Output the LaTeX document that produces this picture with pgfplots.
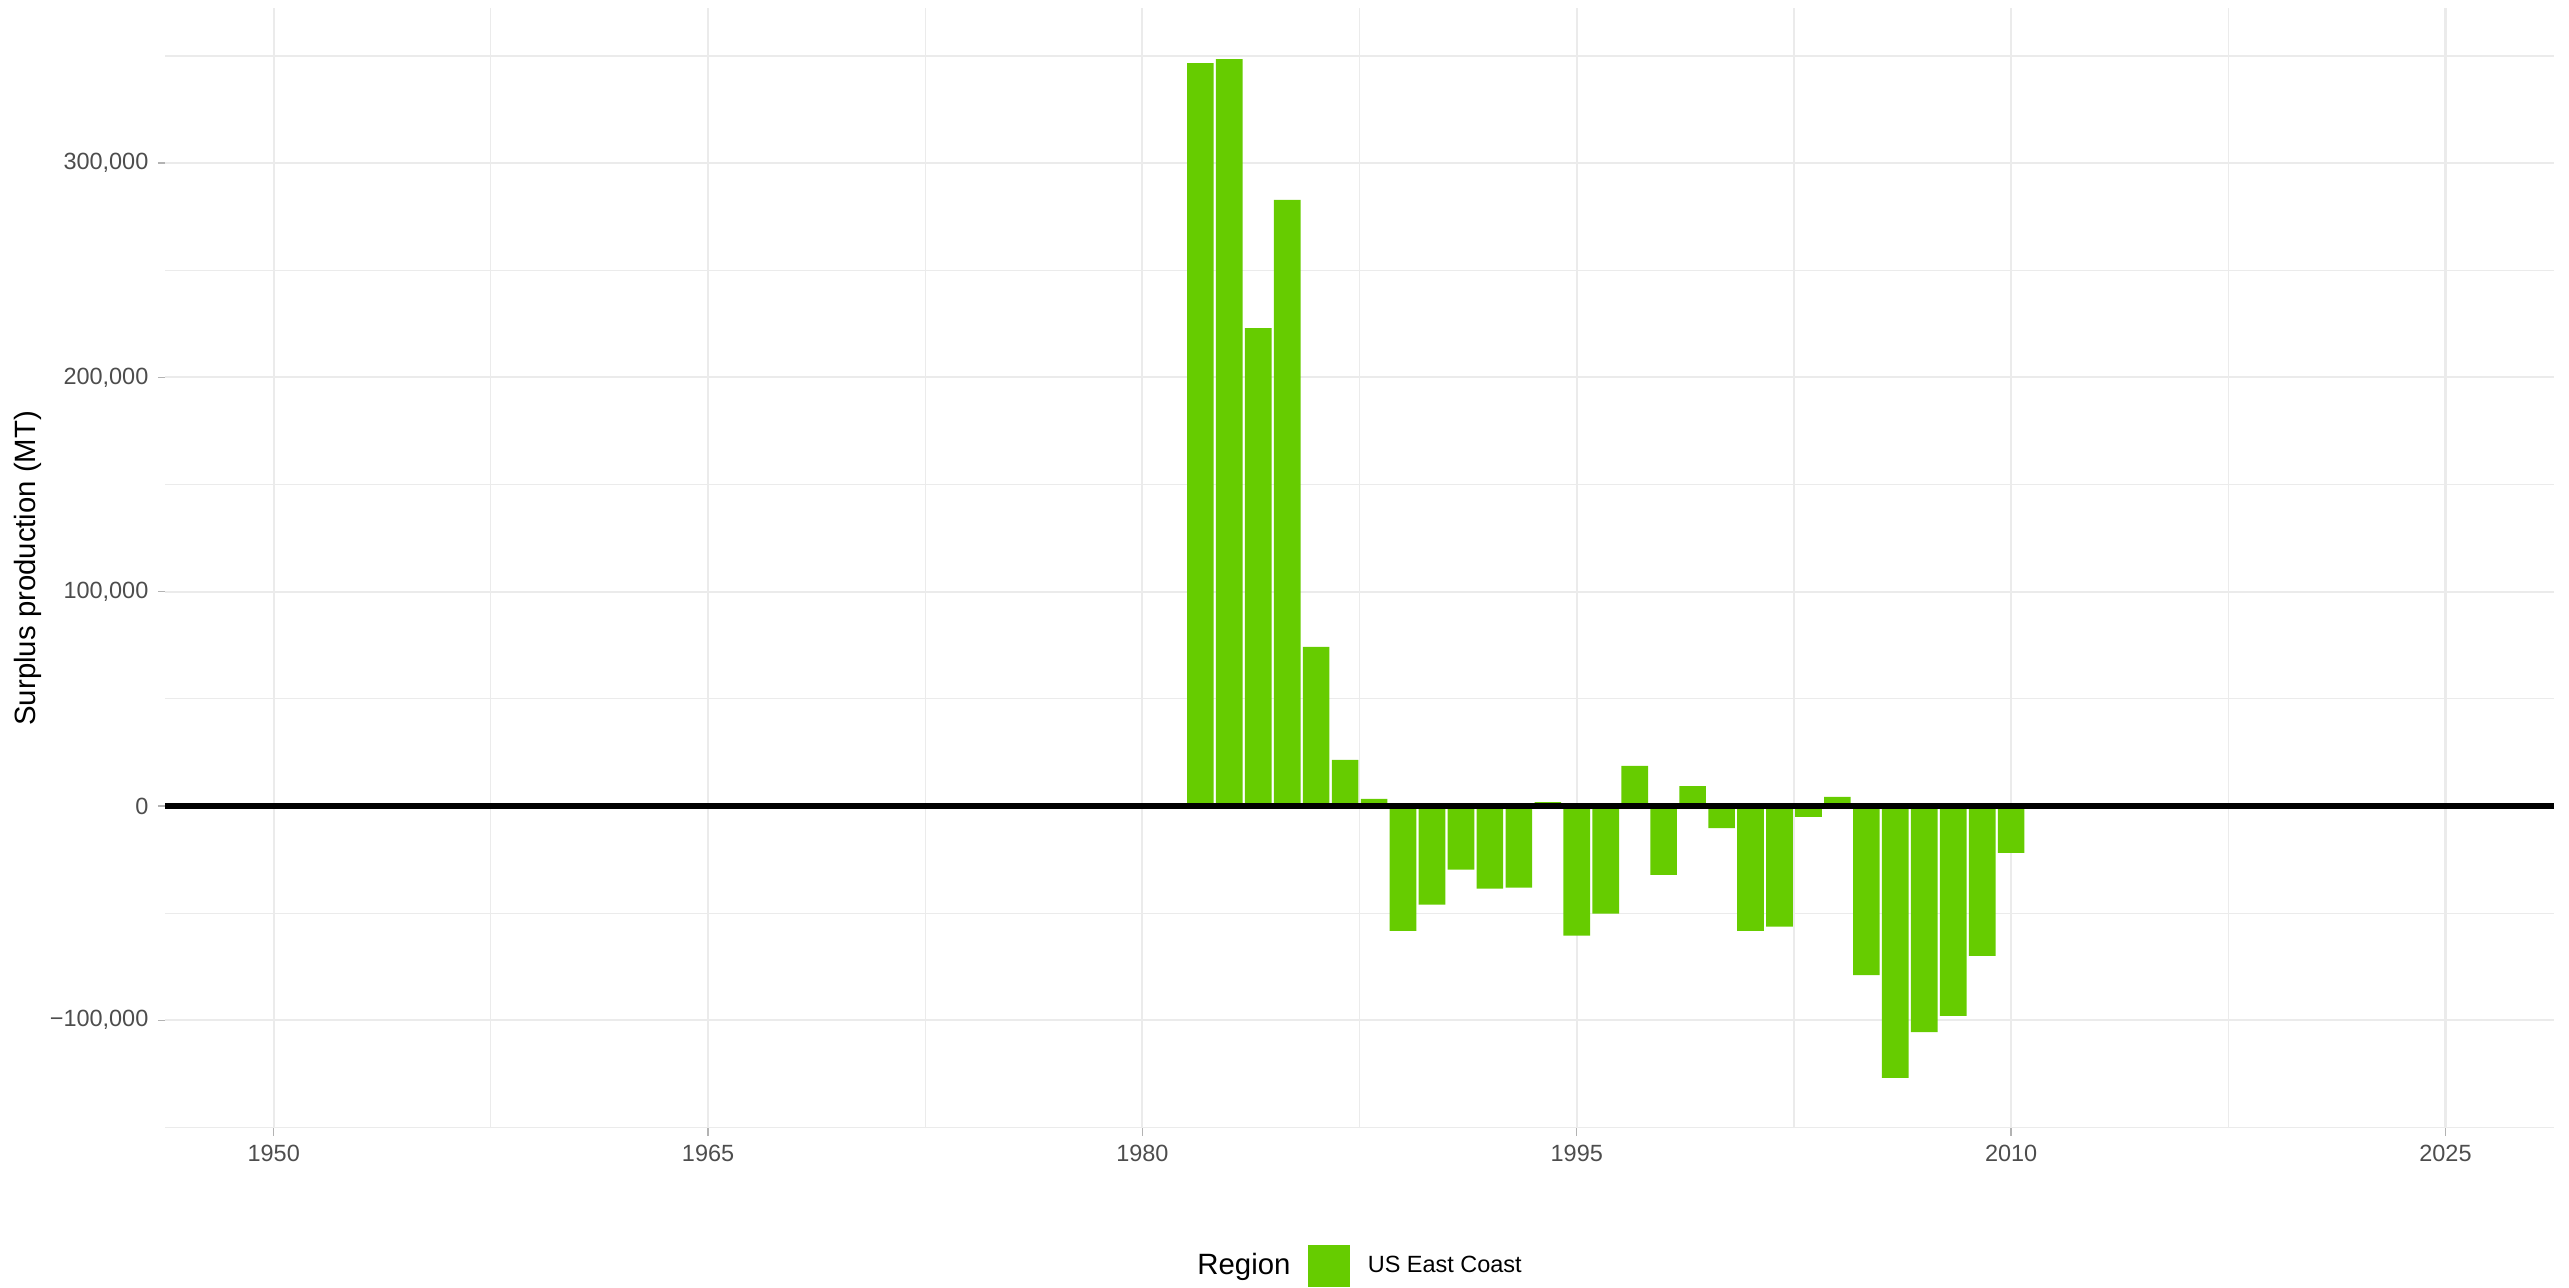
\documentclass[border=0pt]{standalone}
\usepackage{fontspec}
\setmainfont{Liberation Sans}
\usepackage{pgfplots}
\pgfplotsset{compat=1.18}
\definecolor{barc}{HTML}{66CC00}
\definecolor{gridc}{HTML}{EBEBEB}
\definecolor{tickc}{HTML}{4D4D4D}
\definecolor{tickm}{HTML}{B3B3B3}
\pgfplotstableread{
year value
1982 346700
1983 348600
1984 223000
1985 282800
1986 74200
1987 21500
1988 3300
1989 -58300
1990 -46000
1991 -29700
1992 -38600
1993 -38100
1994 1800
1995 -60500
1996 -50200
1997 18700
1998 -32200
1999 9300
2000 -10300
2001 -58300
2002 -56300
2003 -5100
2004 4200
2005 -78900
2006 -126900
2007 -105500
2008 -98000
2009 -70000
2010 -21900
}\surplus
\begin{document}
\begin{tikzpicture}
\useasboundingbox (-61.9pt,-59.6pt) rectangle (901.1pt,423pt);
\begin{axis}[
  scale only axis, width=895.5pt, height=420pt,
  xmin=1946.25, xmax=2028.75, ymin=-150500, ymax=372400,
  axis line style={draw=none},
  xtick pos=bottom, ytick pos=left,
  xtick={1950,1965,1980,1995,2010,2025},
  xticklabels={1950,1965,1980,1995,2010,2025},
  minor xtick={1957.5,1972.5,1987.5,2002.5,2017.5},
  ytick={-100000,0,100000,200000,300000},
  yticklabels={{−100,000},{0},{100,000},{200,000},{300,000}},
  minor ytick={-150000,-50000,50000,150000,250000,350000},
  grid=both,
  major grid style={gridc, line width=0.8pt},
  minor grid style={gridc, line width=0.45pt},
  tick align=outside,
  major tick length=2.75pt, minor tick length=0pt,
  major tick style={tickm, line width=0.5pt},
  tick label style={font=\fontsize{8.8pt}{10pt}\selectfont, text=tickc},
  every axis y label/.style={at={(axis description cs:0,0.5)}, xshift=-51.4pt, rotate=90, anchor=center, font=\fontsize{11pt}{13pt}\selectfont},
  ylabel={Surplus production (MT)},
  legend style={at={(axis description cs:0.5,-0.1229)}, anchor=center, draw=none, fill=none,
    legend columns=-1, font=\fontsize{8.8pt}{10pt}\selectfont,
    /tikz/every even column/.style={column sep=4.5pt}},
]
\addlegendimage{empty legend}
\addlegendentry{\fontsize{11pt}{13pt}\selectfont Region}
\addplot[ybar, bar shift=0pt, bar width=0.92, fill=barc, draw=none,
  legend image code/.code={\fill[barc] (0pt,-8pt) rectangle (16pt,8pt); \path (20.5pt,0pt);}]
  table[x=year, y=value] {\surplus};
\addlegendentry{US East Coast}
\addplot[black, line width=2.1pt, forget plot] coordinates {(1946.25,0) (2028.75,0)};
\end{axis}
\end{tikzpicture}
\end{document}
